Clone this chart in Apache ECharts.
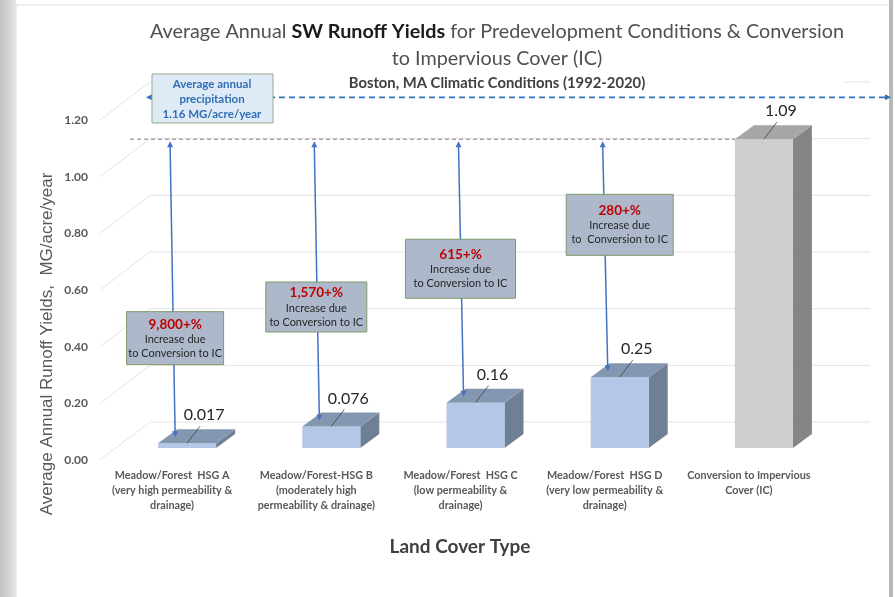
<!DOCTYPE html>
<html>
<head>
<meta charset="utf-8">
<script src="https://cdn.jsdelivr.net/npm/echarts@6/dist/echarts.min.js"></script>
<style>html,body{margin:0;padding:0;background:#fff;}#c{width:895px;height:597px;}</style>
</head>
<body>
<div id="c"></div>
<script>
// ---------- data ----------
const categories = [
  'Meadow/Forest  HSG A\n(very high permeability &\ndrainage)',
  'Meadow/Forest-HSG B\n(moderately high\npermeability & drainage)',
  'Meadow/Forest  HSG C\n(low permeability &\ndrainage)',
  'Meadow/Forest  HSG D\n(very low permeability &\ndrainage)',
  'Conversion to Impervious\nCover (IC)'
];
const runoffYields = [0.017, 0.076, 0.16, 0.25, 1.09];
const valueLabels = ['0.017', '0.076', '0.16', '0.25', '1.09'];
const increasePct = ['9,800+%', '1,570+%', '615+%', '280+%'];
const increaseLine2 = ['Increase due', 'Increase due', 'Increase due', 'Increase due'];
const increaseLine3 = ['to Conversion to IC', 'to Conversion to IC', 'to Conversion to IC', 'to  Conversion to IC'];
const precipitation = 1.16;
const yTicks = [0, 0.2, 0.4, 0.6, 0.8, 1.0, 1.2];

// ---------- layout / style constants ----------
const FONT = 'Lato, "Open Sans", sans-serif';
const DEPTH_X = 19, DEPTH_Y = -14;     // 3D depth of boxes
const FRONT_DY = -12;                   // front plane offset
const WALL_DX = 50, WALL_DY = -38;      // back wall offset
const BAR_W = 58, BAR_SHIFT = 15;
const boxLevel = [0.43, 0.54, 0.675, 0.83];   // annotation box centres (axis units)
const boxShift = [3, 0, 0, 15];
const boxW = [97, 101, 110, 107];
const boxH = [53, 50, 59, 61];

const chart = echarts.init(document.getElementById('c'), null, {renderer: 'canvas'});

function barGeom(api, i, v) {
  const c = api.coord([i, v]);
  const b = api.coord([i, 0]);
  const cx = c[0] + BAR_SHIFT;
  return {cx: cx, L: cx - BAR_W / 2, R: cx + BAR_W / 2, top: c[1] + FRONT_DY, bottom: b[1] + FRONT_DY};
}

const option = {
  backgroundColor: '#ffffff',
  animation: false,
  title: {
    left: 492, top: 13, textAlign: 'center',
    text: '{a|Average Annual }{b|SW Runoff Yields}{a| for Predevelopment Conditions & Conversion}\n{a|to Impervious Cover (IC)}',
    textStyle: {
      rich: {
        a: {fontFamily: FONT, fontSize: 19.8, color: '#505050', lineHeight: 27, fontWeight: 'normal'},
        b: {fontFamily: FONT, fontSize: 19.8, color: '#1a1a1a', lineHeight: 27, fontWeight: 'bold'}
      }
    }
  },
  grid: {left: 100, right: 74, top: 120, bottom: 137, containLabel: false},
  xAxis: {
    type: 'category', data: categories,
    axisLine: {show: false}, axisTick: {show: false},
    axisLabel: {margin: 8, fontFamily: FONT, fontSize: 10.8, fontWeight: 'bold', color: '#595959', lineHeight: 15, interval: 0}
  },
  yAxis: {
    type: 'value', min: 0, max: 1.2, interval: 0.2,
    axisLine: {show: false}, axisTick: {show: false}, splitLine: {show: false},
    axisLabel: {margin: 12, fontFamily: FONT, fontSize: 12, fontWeight: 'bold', color: '#595959', formatter: v => v.toFixed(2)}
  },
  graphic: [
    // frame
    {type: 'rect', z: -5, shape: {x: 0, y: 0, width: 16, height: 597},
     style: {fill: new echarts.graphic.LinearGradient(0, 0, 1, 0, [{offset: 0, color: '#c4c4c4'}, {offset: 0.6, color: '#d4d4d4'}, {offset: 1, color: '#e8e8e8'}])}},
    {type: 'rect', z: -5, shape: {x: 16, y: 5, width: 874, height: 600}, style: {fill: '#fff', stroke: '#dcdcdc', lineWidth: 1}},
    {type: 'rect', z: -4, shape: {x: 889, y: 0, width: 4, height: 597}, style: {fill: '#b8b8b8'}},
    // subtitle area (hides top back gridline)
    {type: 'rect', z: 50, shape: {x: 275, y: 74, width: 568, height: 16}, style: {fill: '#fff'}},
    {type: 'text', z: 51, x: 497, y: 83, style: {text: 'Boston, MA Climatic Conditions (1992-2020)', align: 'center', verticalAlign: 'middle', fontFamily: FONT, fontSize: 14.8, fontWeight: 'bold', fill: '#404040'}},
    // axis names
    {type: 'text', z: 51, x: 47, y: 344, rotation: Math.PI / 2,
     style: {text: 'Average Annual Runoff Yields,  MG/acre/year', align: 'center', verticalAlign: 'middle', fontFamily: '"Liberation Sans", Arial, sans-serif', fontSize: 17, fill: '#595959'}},
    {type: 'text', z: 51, x: 460, y: 547,
     style: {text: 'Land Cover Type', align: 'center', verticalAlign: 'middle', fontFamily: FONT, fontSize: 19, fontWeight: 'bold', fill: '#404040'}}
  ],
  series: [
    // back wall gridlines
    {
      type: 'custom', z: 1, silent: true,
      data: yTicks.map(v => [0, v]),
      renderItem: function (params, api) {
        const cs = params.coordSys;
        const y = api.coord([0, api.value(1)])[1];
        const x0 = cs.x, x1 = cs.x + WALL_DX, x2 = cs.x + cs.width + WALL_DX - 1;
        return {type: 'group', children: [
          {type: 'line', shape: {x1: x0, y1: y, x2: x1, y2: y + WALL_DY}, style: {stroke: '#e4e4e4', lineWidth: 1}},
          {type: 'line', shape: {x1: x1, y1: y + WALL_DY, x2: x2, y2: y + WALL_DY}, style: {stroke: '#e4e4e4', lineWidth: 1}}
        ]};
      }
    },
    // average annual precipitation line
    {
      type: 'custom', z: 3, silent: true,
      data: [[0, precipitation]],
      renderItem: function (params, api) {
        const cs = params.coordSys;
        const y = api.coord([0, api.value(1)])[1] - 34;
        const xl = cs.x + 46, xr = 891;
        const col = '#2E75B6';
        return {type: 'group', children: [
          {type: 'line', shape: {x1: xl + 3, y1: y, x2: xr - 3, y2: y}, style: {stroke: col, lineWidth: 1.6, lineDash: [6, 4]}},
          {type: 'polygon', shape: {points: [[xl, y], [xl + 6, y - 3], [xl + 6, y + 3]]}, style: {fill: col}},
          {type: 'polygon', shape: {points: [[xr, y], [xr - 6, y - 3], [xr - 6, y + 3]]}, style: {fill: col}},
          {type: 'rect', shape: {x: 152, y: 74, width: 121, height: 49}, style: {fill: '#DEEBF7', stroke: '#94a98c', lineWidth: 1}},
          {type: 'text', style: {x: 212, y: 84, text: 'Average annual', align: 'center', verticalAlign: 'middle', fontFamily: FONT, fontSize: 11.5, fontWeight: 'bold', fill: '#2F6DB5'}},
          {type: 'text', style: {x: 212, y: 99, text: 'precipitation', align: 'center', verticalAlign: 'middle', fontFamily: FONT, fontSize: 11.5, fontWeight: 'bold', fill: '#2F6DB5'}},
          {type: 'text', style: {x: 212, y: 114, text: api.value(1).toFixed(2) + ' MG/acre/year', align: 'center', verticalAlign: 'middle', fontFamily: FONT, fontSize: 11.5, fontWeight: 'bold', fill: '#2F6DB5'}}
        ]};
      }
    },
    // 3D bars
    {
      type: 'custom', z: 4, silent: true,
      data: runoffYields.map((v, i) => [i, v]),
      renderItem: function (params, api) {
        const i = api.value(0), v = api.value(1);
        const g = barGeom(api, i, v);
        const isIC = i === categories.length - 1;
        const front = isIC ? '#D0CECE' : '#B4C7E7';
        const topC = isIC ? '#A6A6A6' : '#8497B0';
        const sideC = isIC ? '#858585' : '#6F7F95';
        const children = [
          {type: 'polygon', shape: {points: [[g.R, g.top], [g.R + DEPTH_X, g.top + DEPTH_Y], [g.R + DEPTH_X, g.bottom + DEPTH_Y], [g.R, g.bottom]]}, style: {fill: sideC}},
          {type: 'rect', shape: {x: g.L, y: g.top, width: BAR_W, height: g.bottom - g.top}, style: {fill: front}},
          {type: 'polygon', shape: {points: [[g.L, g.top], [g.R, g.top], [g.R + DEPTH_X, g.top + DEPTH_Y], [g.L + DEPTH_X, g.top + DEPTH_Y]]}, style: {fill: topC}},
          {type: 'line', shape: {x1: g.cx, y1: g.top, x2: g.cx + 13, y2: g.top - 17}, style: {stroke: '#404040', lineWidth: 0.8}},
          {type: 'text', style: {x: g.cx + 17, y: g.top - 28, text: valueLabels[i], align: 'center', verticalAlign: 'middle', fontFamily: FONT, fontSize: 16, fill: '#262626'}}
        ];
        if (isIC) {
          const cs = params.coordSys;
          children.unshift({type: 'line', shape: {x1: cs.x + 30, y1: g.top, x2: g.L, y2: g.top}, style: {stroke: '#a6a6a6', lineWidth: 1.5, lineDash: [4, 3]}});
        }
        return {type: 'group', children: children};
      }
    },
    // increase arrows + annotation boxes
    {
      type: 'custom', z: 5, silent: true,
      data: increasePct.map((t, i) => [i, runoffYields[i]]),
      renderItem: function (params, api) {
        const i = api.value(0);
        const g = barGeom(api, i, api.value(1));
        const icTop = barGeom(api, categories.length - 1, runoffYields[runoffYields.length - 1]).top;
        const xb = g.cx - 12, yb = g.top - 6;
        const xt = g.cx - 17, yt = icTop + 2;
        const col = '#4472C4';
        const bx = g.cx - 15 + boxShift[i];
        const by = api.coord([i, boxLevel[i]])[1];
        const w = boxW[i], h = boxH[i];
        return {type: 'group', children: [
          {type: 'line', shape: {x1: xb, y1: yb - 4, x2: xt, y2: yt + 4}, style: {stroke: col, lineWidth: 1.5}},
          {type: 'polygon', shape: {points: [[xt, yt], [xt - 3, yt + 6], [xt + 3, yt + 6]]}, style: {fill: col}},
          {type: 'polygon', shape: {points: [[xb, yb], [xb - 3, yb - 6], [xb + 3, yb - 6]]}, style: {fill: col}},
          {type: 'rect', shape: {x: bx - w / 2, y: by - h / 2, width: w, height: h}, style: {fill: '#ADB9CA', stroke: '#7f9a6a', lineWidth: 1}},
          {type: 'text', style: {x: bx, y: by - 14, text: increasePct[i], align: 'center', verticalAlign: 'middle', fontFamily: FONT, fontSize: 13.5, fontWeight: 'bold', fill: '#C00000'}},
          {type: 'text', style: {x: bx, y: by + 1, text: increaseLine2[i], align: 'center', verticalAlign: 'middle', fontFamily: FONT, fontSize: 11, fill: '#262626'}},
          {type: 'text', style: {x: bx, y: by + 15, text: increaseLine3[i], align: 'center', verticalAlign: 'middle', fontFamily: FONT, fontSize: 11, fill: '#262626'}}
        ]};
      }
    }
  ]
};
chart.setOption(option);
</script>
</body>
</html>
